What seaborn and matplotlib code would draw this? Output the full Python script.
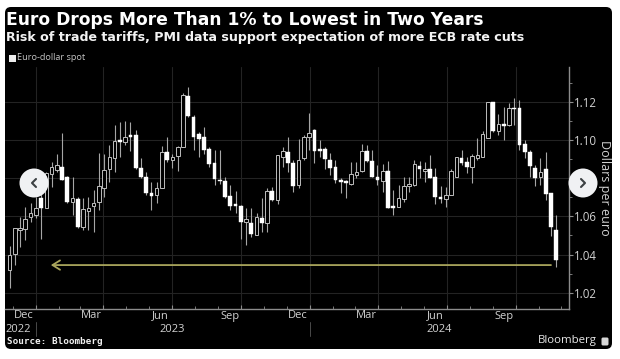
#!/usr/bin/env python3
import numpy as np
import pandas as pd
import matplotlib
matplotlib.use('Agg')
import matplotlib.pyplot as plt
import matplotlib.dates as mdates
from matplotlib.patches import FancyBboxPatch, Circle, Rectangle
from matplotlib.lines import Line2D
from matplotlib.transforms import IdentityTransform
import seaborn as sns

# Weekly euro-dollar candles
first_week = '2022-11-27'
opens = [1.0319, 1.0403, 1.0528, 1.0532, 1.0598, 1.0607, 1.0697, 1.0642, 1.0821, 1.0842,
         1.0856, 1.0806, 1.0676, 1.0692, 1.0546, 1.0629, 1.0654, 1.0675, 1.0751, 1.0846,
         1.0903, 1.0999, 1.0989, 1.1027, 1.1025, 1.0851, 1.0806, 1.0724, 1.0710, 1.0750,
         1.0938, 1.0895, 1.0917, 1.0964, 1.1231, 1.1121, 1.1029, 1.1013, 1.0954, 1.0877,
         1.0792, 1.0783, 1.0706, 1.0664, 1.0654, 1.0570, 1.0565, 1.0505, 1.0589, 1.0563,
         1.0734, 1.0685, 1.0909, 1.0938, 1.0882, 1.0764, 1.0903, 1.1017, 1.1052, 1.0954,
         1.0952, 1.0895, 1.0858, 1.0790, 1.0786, 1.0769, 1.0816, 1.0839, 1.0943, 1.0891,
         1.0807, 1.0786, 1.0837, 1.0655, 1.0650, 1.0690, 1.0758, 1.0764, 1.0865, 1.0837,
         1.0849, 1.0807, 1.0701, 1.0690, 1.0713, 1.0807, 1.0903, 1.0886, 1.0860, 1.0905,
         1.0912, 1.1012, 1.1197, 1.1046, 1.1081, 1.1078, 1.1165, 1.1165, 1.0977, 1.0938,
         1.0854, 1.0807, 1.0849, 1.0720, 1.0530]
highs = [1.0446, 1.0540, 1.0598, 1.0650, 1.0668, 1.0703, 1.0755, 1.0833, 1.0886, 1.0929,
         1.1034, 1.0810, 1.0807, 1.0703, 1.0694, 1.0703, 1.0738, 1.0933, 1.0929, 1.0973,
         1.1078, 1.1095, 1.1099, 1.1095, 1.1052, 1.0903, 1.0833, 1.0781, 1.0781, 1.0968,
         1.1013, 1.0929, 1.0968, 1.1244, 1.1279, 1.1130, 1.1043, 1.1066, 1.0961, 1.0950,
         1.0947, 1.0804, 1.0764, 1.0734, 1.0659, 1.0642, 1.0642, 1.0615, 1.0694, 1.0746,
         1.0755, 1.0921, 1.0964, 1.1017, 1.0895, 1.1005, 1.1025, 1.1139, 1.1055, 1.0999,
         1.0961, 1.0933, 1.0895, 1.0799, 1.0790, 1.0886, 1.0886, 1.0978, 1.0973, 1.0947,
         1.0868, 1.0874, 1.0889, 1.0738, 1.0764, 1.0807, 1.0807, 1.0895, 1.0891, 1.0886,
         1.0921, 1.0851, 1.0758, 1.0755, 1.0846, 1.0911, 1.0947, 1.0912, 1.0926, 1.1008,
         1.1046, 1.1200, 1.1200, 1.1135, 1.1174, 1.1191, 1.1221, 1.1209, 1.1000, 1.0947,
         1.0868, 1.0903, 1.0938, 1.0724, 1.0607]
lows = [1.0225, 1.0345, 1.0441, 1.0476, 1.0572, 1.0589, 1.0484, 1.0642, 1.0755, 1.0833,
        1.0790, 1.0670, 1.0607, 1.0537, 1.0528, 1.0528, 1.0519, 1.0633, 1.0703, 1.0781,
        1.0833, 1.0909, 1.0973, 1.0943, 1.0846, 1.0799, 1.0711, 1.0633, 1.0668, 1.0746,
        1.0886, 1.0851, 1.0839, 1.0961, 1.1121, 1.0947, 1.0912, 1.0929, 1.0860, 1.0764,
        1.0772, 1.0694, 1.0633, 1.0615, 1.0484, 1.0450, 1.0493, 1.0502, 1.0519, 1.0516,
        1.0682, 1.0664, 1.0856, 1.0834, 1.0729, 1.0746, 1.0895, 1.0947, 1.0877, 1.0909,
        1.0846, 1.0816, 1.0776, 1.0724, 1.0694, 1.0764, 1.0799, 1.0833, 1.0886, 1.0804,
        1.0764, 1.0729, 1.0642, 1.0607, 1.0647, 1.0676, 1.0729, 1.0760, 1.0799, 1.0781,
        1.0799, 1.0664, 1.0668, 1.0650, 1.0710, 1.0804, 1.0868, 1.0825, 1.0776, 1.0895,
        1.0909, 1.1008, 1.1043, 1.1025, 1.1000, 1.1074, 1.1078, 1.0949, 1.0904, 1.0807,
        1.0758, 1.0764, 1.0685, 1.0497, 1.0333]
closes = [1.0397, 1.0537, 1.0537, 1.0586, 1.0619, 1.0642, 1.0642, 1.0825, 1.0856, 1.0868,
          1.0793, 1.0676, 1.0694, 1.0546, 1.0636, 1.0645, 1.0671, 1.0760, 1.0842, 1.0909,
          1.0994, 1.0987, 1.1017, 1.1017, 1.0851, 1.0806, 1.0724, 1.0708, 1.0750, 1.0938,
          1.0895, 1.0909, 1.0964, 1.1235, 1.1125, 1.1017, 1.1006, 1.0947, 1.0874, 1.0797,
          1.0783, 1.0699, 1.0655, 1.0652, 1.0570, 1.0586, 1.0507, 1.0596, 1.0563, 1.0734,
          1.0685, 1.0919, 1.0943, 1.0882, 1.0760, 1.0895, 1.1017, 1.1039, 1.0943, 1.0943,
          1.0898, 1.0853, 1.0788, 1.0781, 1.0776, 1.0821, 1.0833, 1.0942, 1.0891, 1.0807,
          1.0790, 1.0837, 1.0645, 1.0645, 1.0697, 1.0760, 1.0772, 1.0872, 1.0847, 1.0847,
          1.0802, 1.0703, 1.0692, 1.0711, 1.0839, 1.0909, 1.0881, 1.0856, 1.0916, 1.0921,
          1.1031, 1.1197, 1.1048, 1.1081, 1.1074, 1.1165, 1.1160, 1.0975, 1.0936, 1.0865,
          1.0799, 1.0833, 1.0717, 1.0542, 1.0371]

y_ticks = [1.02, 1.04, 1.06, 1.08, 1.10, 1.12]
y_minor = [1.03, 1.05, 1.07, 1.09, 1.11, 1.13]
quarter_starts = ['2023-01-01', '2023-04-01', '2023-07-01', '2023-10-01',
                  '2024-01-01', '2024-04-01', '2024-07-01', '2024-10-01']
month_labels = ['Dec', 'Mar', 'Jun', 'Sep', 'Dec', 'Mar', 'Jun', 'Sep']
month_dates = ['2022-12-16', '2023-03-16', '2023-06-16', '2023-09-16',
               '2023-12-16', '2024-03-16', '2024-06-16', '2024-09-16']
year_labels = ['2022', '2023', '2024']
year_dates = ['2022-12-09', '2023-07-01', '2024-06-21']
year_breaks = ['2023-01-01', '2024-01-01']
arrow_level = 1.0345
arrow_from = '2024-11-17'
arrow_to = '2023-01-21'

W, H = 620, 359
TEXT = '#d2d2d2'
GRID = '#232323'
AXIS = '#8c8c8c'

sns.set_theme(style='dark')
plt.rcParams['font.family'] = ['Open Sans', 'DejaVu Sans']

fig = plt.figure(figsize=(W / 100, H / 100), dpi=100, facecolor='white')
ax = fig.add_axes([5 / W, 1 - 309 / H, 564 / W, 242 / H], facecolor='black')

# black card behind everything, given in pixels
fig.add_artist(FancyBboxPatch((8, H - 346), 601, 336, boxstyle='round,pad=3,rounding_size=6',
                              transform=IdentityTransform(), fc='black', ec='none', zorder=-5))

candles = pd.DataFrame({'open': opens, 'high': highs, 'low': lows, 'close': closes})
candles['date'] = pd.date_range(first_week, periods=len(candles), freq='7D')
candles['x'] = mdates.date2num(candles['date'])
candles['top'] = candles[['open', 'close']].max(axis=1)
candles['bottom'] = candles[['open', 'close']].min(axis=1)
candles['size'] = candles['top'] - candles['bottom']
up = candles[candles['close'] >= candles['open']]
down = candles[candles['close'] < candles['open']]

ax.vlines(candles['x'], candles['low'], candles['high'], color='#a6a6a6', lw=0.8, zorder=2)

# hollow = up week, solid = down week
sns.barplot(data=up, x='x', y='size', bottom=up['bottom'].values, native_scale=True,
            width=0.68, color='black', saturation=1, edgecolor='#bdbdbd', linewidth=0.7,
            errorbar=None, zorder=3, ax=ax)
sns.barplot(data=down, x='x', y='size', bottom=down['bottom'].values, native_scale=True,
            width=0.72, color='white', saturation=1, edgecolor='white', linewidth=0.3,
            errorbar=None, zorder=3, ax=ax)

ax.annotate('', xy=(mdates.datestr2num(arrow_to), arrow_level),
            xytext=(mdates.datestr2num(arrow_from), arrow_level),
            arrowprops=dict(arrowstyle='->,head_length=0.45,head_width=0.28', color='#a9a55c',
                            lw=1.3, shrinkA=0, shrinkB=0), zorder=4)

ax.set_xlim(mdates.datestr2num('2022-11-21'), mdates.datestr2num('2024-12-11'))
ax.set_ylim(1.0115, 1.1382)
ax.set_xlabel('')
ax.set_ylabel('')

# axes and ticks
for side in ['top', 'left']:
    ax.spines[side].set_visible(False)
for side in ['bottom', 'right']:
    ax.spines[side].set_visible(True)
    ax.spines[side].set_color(AXIS)
    ax.spines[side].set_linewidth(1.0)

ax.yaxis.tick_right()
ax.set_yticks(y_ticks)
ax.set_yticklabels([f'{v:.2f}' for v in y_ticks])
ax.set_yticks(y_minor, minor=True)
ax.tick_params(axis='y', which='major', direction='out', length=3, width=0.8, color=AXIS,
               labelcolor=TEXT, labelsize=8.3, pad=0.8, right=True)
ax.tick_params(axis='y', which='minor', direction='out', length=2, width=0.6, color=AXIS, right=True)

ax.set_xticks(mdates.datestr2num(quarter_starts))
ax.set_xticklabels([])
ax.xaxis.set_minor_locator(mdates.MonthLocator())
ax.tick_params(axis='x', which='major', direction='in', length=3, width=0.8, color=AXIS, bottom=True)
ax.tick_params(axis='x', which='minor', direction='in', length=2, width=0.6, color=AXIS, bottom=True)
ax.grid(True, which='major', axis='both', color=GRID, lw=0.8)
ax.set_axisbelow(True)

trans = ax.get_xaxis_transform()
for lab, d in zip(month_labels, month_dates):
    ax.text(mdates.datestr2num(d), -7 / 242, lab, transform=trans, ha='center', va='center',
            color=TEXT, fontsize=8)
for lab, d in zip(year_labels, year_dates):
    ax.text(mdates.datestr2num(d), -21 / 242, lab, transform=trans, ha='center', va='center',
            color=TEXT, fontsize=8)
for d in year_breaks:
    ax.plot([mdates.datestr2num(d)] * 2, [-13 / 242, -27 / 242], transform=trans, color='#4a4a4a',
            lw=0.7, clip_on=False)

# headline block
fig.text(6 / W, 1 - 20 / H, 'Euro Drops More Than 1% to Lowest in Two Years', color='white',
         family='DejaVu Sans', fontweight='bold', fontsize=12.35, va='center')
fig.text(6 / W, 1 - 37 / H, 'Risk of trade tariffs, PMI data support expectation of more ECB rate cuts',
         color='#f2f2f2', family='DejaVu Sans', fontweight='bold', fontsize=9.1, va='center')
fig.add_artist(Rectangle((9, H - 62), 7, 7, transform=IdentityTransform(), fc='#ededed', ec='none', zorder=4))
fig.text(17 / W, 1 - 58 / H, 'Euro-dollar spot', color='#c4c4c4', fontsize=6.6, va='center')

fig.text(605 / W, 1 - 188 / H, 'Dollars per euro', color=TEXT, fontsize=9, rotation=270,
         ha='center', va='center')
fig.text(7 / W, 1 - 342 / H, 'Source: Bloomberg', color='#f0f0f0', family='DejaVu Sans Mono',
         fontweight='bold', fontsize=6.7, va='center')
fig.text(597 / W, 1 - 341 / H, 'Bloomberg', color='#e8e8e8', fontsize=8.2, ha='right', va='center')
fig.add_artist(FancyBboxPatch((602, H - 345), 6, 7, boxstyle='round,pad=0.5,rounding_size=1.5',
                              transform=IdentityTransform(), fc='#d8d8d8', ec='none', zorder=4))

# carousel buttons sit on top of the chart
for cx, sign in [(34, -1), (583, 1)]:
    fig.add_artist(Circle((cx, H - 183), 14.5, transform=IdentityTransform(), fc='#f0f1f3', ec='none', zorder=5))
    fig.add_artist(Line2D([cx - sign * 2, cx + sign * 2, cx - sign * 2],
                          [H - 179, H - 183, H - 187], transform=IdentityTransform(),
                          color='#3c4043', lw=1.5, zorder=6))

fig.savefig('out.png', dpi=100, facecolor='white')
